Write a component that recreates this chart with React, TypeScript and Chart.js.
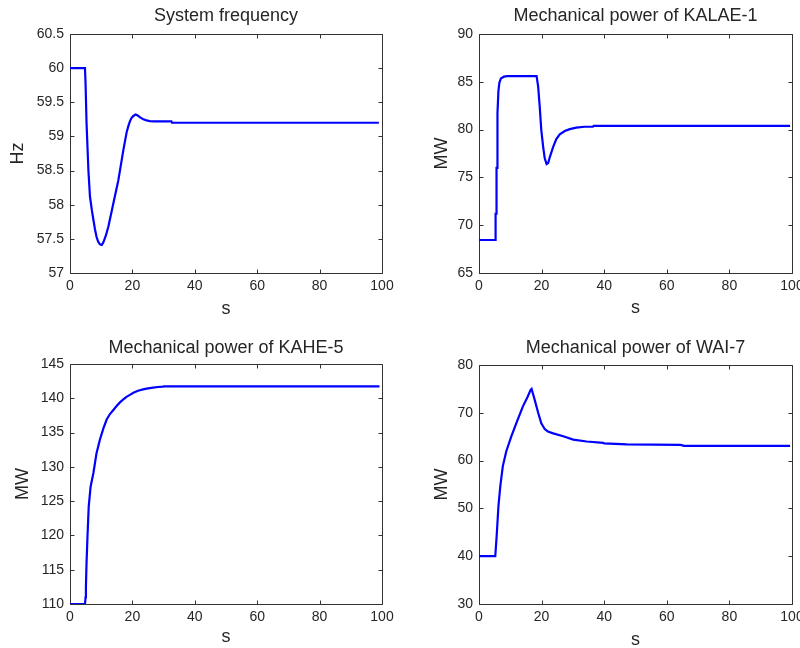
import React, { useEffect, useRef } from 'react';
import { Chart, registerables } from 'chart.js';

Chart.register(...registerables);

// ---------- data ----------
const TIME_TICKS = [0, 20, 40, 60, 80, 100];

const FREQ_T = [0, 4.8, 5.0, 5.3, 5.6, 5.9, 6.4, 7.0, 7.5, 8.0, 8.5, 9.0, 9.6, 10.2, 10.7, 11.5, 12.3, 13.1, 13.9, 14.7, 15.5, 16.3, 17.1, 17.7, 18.2, 18.7, 19.2, 19.7, 20.3, 21.0, 21.6, 22.5, 23.5, 24.5, 25.6, 27.0, 32.5, 32.7, 99];
const FREQ_V = [60.0, 60.0, 59.75, 59.2, 58.85, 58.5, 58.12, 57.92, 57.78, 57.64, 57.53, 57.46, 57.42, 57.41, 57.45, 57.55, 57.68, 57.85, 58.02, 58.19, 58.36, 58.58, 58.8, 58.95, 59.07, 59.15, 59.22, 59.27, 59.3, 59.32, 59.31, 59.28, 59.25, 59.235, 59.225, 59.22, 59.22, 59.2, 59.2];
const FREQ_TICKS = [57, 57.5, 58, 58.5, 59, 59.5, 60, 60.5];

const KALAE_T = [0, 5.3, 5.3, 5.6, 5.6, 5.9, 5.9, 6.2, 6.5, 7.0, 8.0, 9.0, 18.4, 18.9, 19.4, 19.9, 20.5, 21.0, 21.6, 22.1, 22.6, 23.7, 24.7, 25.8, 27.4, 29.0, 31.1, 33.7, 36.4, 36.6, 99.4];
const KALAE_V = [68.45, 68.45, 71.2, 71.2, 76.0, 76.0, 81.7, 84.0, 84.9, 85.35, 85.55, 85.6, 85.6, 84.5, 82.4, 79.95, 78.2, 77.0, 76.4, 76.5, 77.1, 78.2, 79.0, 79.5, 79.85, 80.05, 80.2, 80.3, 80.3, 80.4, 80.4];
const KALAE_TICKS = [65, 70, 75, 80, 85, 90];

const KAHE_T = [0, 4.8, 5.0, 5.1, 5.3, 5.6, 6.0, 6.6, 7.5, 8.5, 9.6, 10.7, 11.75, 12.8, 13.9, 15.0, 16.0, 17.0, 18.1, 19.2, 20.3, 21.8, 23.4, 25.0, 26.6, 28.2, 29.8, 30.0, 99.2];
const KAHE_V = [110, 110, 111, 112.5, 116, 119.8, 124.2, 127.1, 129.1, 132, 134, 135.6, 136.9, 137.7, 138.3, 138.9, 139.4, 139.8, 140.2, 140.5, 140.8, 141.1, 141.3, 141.45, 141.55, 141.65, 141.7, 141.75, 141.75];
const KAHE_TICKS = [110, 115, 120, 125, 130, 135, 140, 145];

const WAI_T = [0, 5.2, 5.7, 6.2, 6.8, 7.6, 8.7, 10.3, 11.9, 14.0, 15.5, 16.5, 16.8, 17.8, 18.9, 19.9, 21.0, 22.0, 23.7, 26.9, 30.1, 34.4, 39.7, 40.0, 47.2, 64.4, 65.5, 99.4];
const WAI_V = [40, 40, 44.8, 50.4, 54.6, 58.8, 61.9, 65, 67.8, 71.3, 73.3, 74.8, 75.0, 72.7, 70, 67.8, 66.6, 66.1, 65.7, 65.1, 64.4, 64.0, 63.7, 63.6, 63.4, 63.3, 63.1, 63.1];
const WAI_TICKS = [30, 40, 50, 60, 70, 80];

// ---------- styles ----------
const FONT = '"Liberation Sans", Arial, Helvetica, sans-serif';
const TEXT = '#262626';
const AXIS = '#333333';
const LINE = '#0000ff';
const TICK_LEN = 4;

type PanelCfg = {
  title: string;
  yLabel: string;
  t: number[];
  v: number[];
  yTicks: number[];
  left: number;
  top: number;
  w: number;
  h: number;
  yWidth: number;
  xHeight: number;
  padRight: number;
  titleTop: number;
  titleBottom: number;
  yTitlePad: number;
  xTitlePad: number;
};

const clamp = (v: number, a: number, b: number) => Math.min(Math.max(v, a), b);

const framePlugin = {
  id: 'matlabFrame',
  beforeDatasetsDraw(chart: any) {
    const { ctx, chartArea } = chart;
    const { left, right, top, bottom } = chartArea;
    const xs = chart.scales.x;
    const ys = chart.scales.y;
    ctx.save();
    ctx.strokeStyle = AXIS;
    ctx.lineWidth = 1;
    const L = Math.round(left) + 0.5;
    const R = Math.round(right) + 0.5;
    const T = Math.round(top) + 0.5;
    const B = Math.round(bottom) + 0.5;
    ctx.beginPath();
    ctx.rect(L, T, R - L, B - T);
    ctx.stroke();
    ctx.beginPath();
    for (const tk of xs.ticks) {
      const px = clamp(Math.round(xs.getPixelForValue(tk.value)) + 0.5, L, R);
      ctx.moveTo(px, B);
      ctx.lineTo(px, B - TICK_LEN);
      ctx.moveTo(px, T);
      ctx.lineTo(px, T + TICK_LEN);
    }
    for (const tk of ys.ticks) {
      const py = clamp(Math.round(ys.getPixelForValue(tk.value)) + 0.5, T, B);
      ctx.moveTo(L, py);
      ctx.lineTo(L + TICK_LEN, py);
      ctx.moveTo(R, py);
      ctx.lineTo(R - TICK_LEN, py);
    }
    ctx.stroke();
    ctx.restore();
  },
};

function Panel({ cfg }: { cfg: PanelCfg }) {
  const ref = useRef<HTMLCanvasElement>(null);
  useEffect(() => {
    if (!ref.current) return;
    const yMin = cfg.yTicks[0];
    const yMax = cfg.yTicks[cfg.yTicks.length - 1];
    const chart = new Chart(ref.current, {
      type: 'line',
      data: {
        datasets: [
          {
            data: cfg.t.map((t, i) => ({ x: t, y: cfg.v[i] })),
            borderColor: LINE,
            borderWidth: 2.2,
            pointRadius: 0,
            tension: 0,
            fill: false,
          },
        ],
      },
      options: {
        animation: false,
        responsive: false,
        maintainAspectRatio: false,
        layout: { padding: { left: 0, top: 0, right: cfg.padRight, bottom: 0 } },
        plugins: {
          legend: { display: false },
          tooltip: { enabled: false },
          title: {
            display: true,
            text: cfg.title,
            fullSize: false,
            color: TEXT,
            font: { family: FONT, size: 18, weight: 'normal', lineHeight: 1 },
            padding: { top: cfg.titleTop, bottom: cfg.titleBottom },
          },
        },
        scales: {
          x: {
            type: 'linear',
            min: 0,
            max: 100,
            afterBuildTicks: (s: any) => {
              s.ticks = TIME_TICKS.map((value) => ({ value }));
            },
            afterFit: (s: any) => {
              s.height = cfg.xHeight;
            },
            grid: { display: false, drawTicks: false },
            border: { display: false },
            ticks: {
              color: TEXT,
              font: { family: FONT, size: 14 },
              padding: 5,
              maxRotation: 0,
              autoSkip: false,
              callback: (v: any) => String(v),
            },
            title: {
              display: true,
              text: 's',
              color: TEXT,
              font: { family: FONT, size: 18 },
              padding: { top: 0, bottom: cfg.xTitlePad },
            },
          },
          y: {
            type: 'linear',
            min: yMin,
            max: yMax,
            afterBuildTicks: (s: any) => {
              s.ticks = cfg.yTicks.map((value) => ({ value }));
            },
            afterFit: (s: any) => {
              s.width = cfg.yWidth;
            },
            grid: { display: false, drawTicks: false },
            border: { display: false },
            ticks: {
              color: TEXT,
              font: { family: FONT, size: 14 },
              padding: 6,
              autoSkip: false,
              callback: (v: any) => String(v),
            },
            title: {
              display: true,
              text: cfg.yLabel,
              color: TEXT,
              font: { family: FONT, size: 18 },
              padding: { top: cfg.yTitlePad, bottom: 0 },
            },
          },
        },
      } as any,
      plugins: [framePlugin],
    });
    return () => chart.destroy();
  }, [cfg]);
  return (
    <canvas
      ref={ref}
      width={cfg.w}
      height={cfg.h}
      style={{ position: 'absolute', left: cfg.left, top: cfg.top, width: cfg.w, height: cfg.h, display: 'block' }}
    />
  );
}

const PANELS: PanelCfg[] = [
  {
    title: 'System frequency', yLabel: 'Hz', t: FREQ_T, v: FREQ_V, yTicks: FREQ_TICKS,
    left: 0, top: 0, w: 400, h: 324, yWidth: 70, xHeight: 51, padRight: 18,
    titleTop: 7, titleBottom: 9, yTitlePad: 7, xTitlePad: 4,
  },
  {
    title: 'Mechanical power of KALAE-1', yLabel: 'MW', t: KALAE_T, v: KALAE_V, yTicks: KALAE_TICKS,
    left: 400, top: 0, w: 420, h: 324, yWidth: 79, xHeight: 51, padRight: 28,
    titleTop: 7, titleBottom: 9, yTitlePad: 31, xTitlePad: 5,
  },
  {
    title: 'Mechanical power of KAHE-5', yLabel: 'MW', t: KAHE_T, v: KAHE_V, yTicks: KAHE_TICKS,
    left: 0, top: 324, w: 400, h: 340, yWidth: 70, xHeight: 60, padRight: 18,
    titleTop: 15, titleBottom: 7, yTitlePad: 12, xTitlePad: 16,
  },
  {
    title: 'Mechanical power of WAI-7', yLabel: 'MW', t: WAI_T, v: WAI_V, yTicks: WAI_TICKS,
    left: 400, top: 324, w: 420, h: 340, yWidth: 79, xHeight: 60, padRight: 28,
    titleTop: 15, titleBottom: 8, yTitlePad: 31, xTitlePad: 13,
  },
];

export default function App() {
  return (
    <div
      style={{
        position: 'absolute',
        left: 0,
        top: 0,
        width: 800,
        height: 648,
        overflow: 'hidden',
        background: '#ffffff',
      }}
    >
      {PANELS.map((p) => (
        <Panel key={p.title} cfg={p} />
      ))}
    </div>
  );
}
